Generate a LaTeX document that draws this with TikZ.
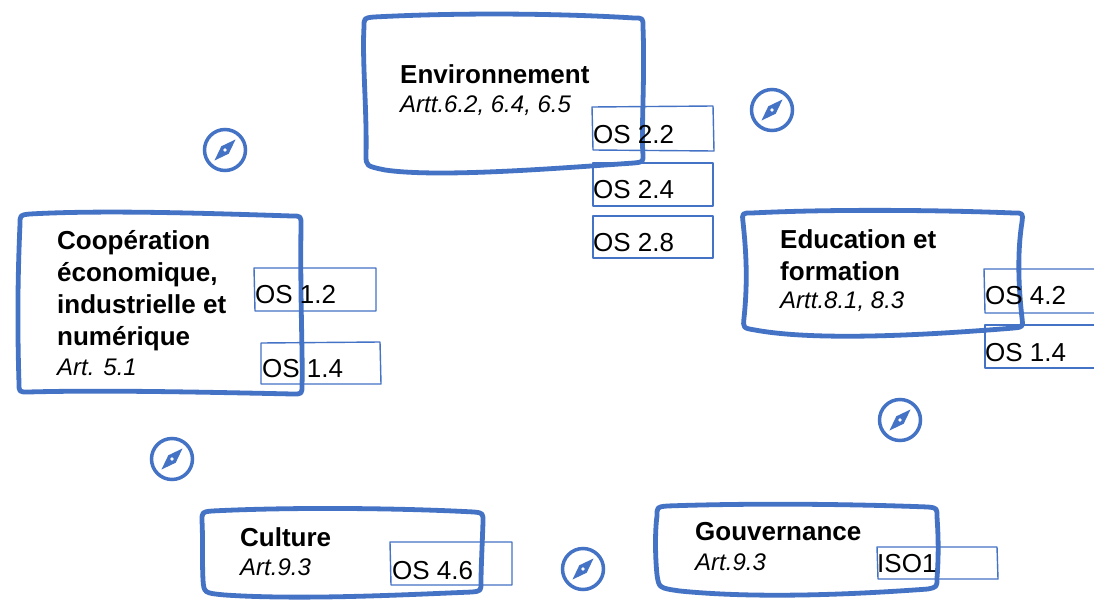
\documentclass[tikz,border=0pt]{standalone}
\usepackage{fontspec}
\setmainfont{Liberation Sans}
\definecolor{ob}{RGB}{68,114,196}
\tikzset{
  bigbox/.style={draw=ob, line width=4.8pt, line join=round},
  osbox/.style={draw=ob, line width=1.4pt, line join=round},
  ttl/.style={anchor=base west, inner sep=0pt, font=\fontsize{26}{32}\selectfont\bfseries},
  art/.style={anchor=base west, inner sep=0pt, font=\fontsize{24}{30}\selectfont\itshape},
  ost/.style={anchor=base west, inner sep=0pt, font=\fontsize{26}{32}\selectfont},
  compass/.pic={
    \draw[ob, line width=3.5pt] (0,0) circle (20.5);
    \fill[ob] (10.5,-10.5) -- (3.7,3.7) -- (-10.5,10.5) -- (-3.7,-3.7) -- cycle;
    \fill[white] (0,0) circle (1.9);
  }
}
\begin{document}
\begin{tikzpicture}[x=1pt,y=-1pt]
\clip (0,0) rectangle (1094,602);
\fill[white] (0,0) rectangle (1094,602);

% big hand-drawn boxes
% Environnement
\draw[bigbox] (374,17) .. controls (470,12) and (570,14) .. (634,18)
  .. controls (643,18) .. (643,27)
  .. controls (645,80) and (641,130) .. (643,155)
  .. controls (643,162) .. (634,163)
  .. controls (560,168) and (440,178) .. (385,170)
  .. controls (366,166) .. (366,155)
  .. controls (367,110) and (362,60) .. (364,27)
  .. controls (364,18) .. (374,17) -- cycle;
% Cooperation
\draw[bigbox] (30,214) .. controls (100,210) and (200,213) .. (292,216)
  .. controls (301,216) .. (301,225)
  .. controls (300,300) and (303,360) .. (302,385)
  .. controls (302,394) .. (293,394)
  .. controls (200,392) and (100,390) .. (28,392)
  .. controls (19,392) .. (19,383)
  .. controls (17,320) and (18,270) .. (20,224)
  .. controls (20,215) .. (30,214) -- cycle;
% Education
\draw[bigbox] (752,213) .. controls (830,209) and (940,210) .. (1014,213)
  .. controls (1023,213) .. (1022,222)
  .. controls (1016,260) and (1020,300) .. (1022,318)
  .. controls (1023,327) .. (1014,328)
  .. controls (940,334) and (820,342) .. (755,330)
  .. controls (743,328) .. (744,318)
  .. controls (748,280) and (746,250) .. (743,222)
  .. controls (742,213) .. (752,213) -- cycle;
% Culture
\draw[bigbox] (212,511) .. controls (290,507) and (400,508) .. (474,512)
  .. controls (483,513) .. (483,522)
  .. controls (482,550) and (481,570) .. (481,582)
  .. controls (481,591) .. (472,592)
  .. controls (400,595) and (300,600) .. (225,595)
  .. controls (204,593) .. (203,580)
  .. controls (202,560) and (203,540) .. (202,521)
  .. controls (202,512) .. (212,511) -- cycle;
% Gouvernance
\draw[bigbox] (667,506) .. controls (750,503) and (850,504) .. (928,507)
  .. controls (937,508) .. (937,517)
  .. controls (939,545) and (938,565) .. (937,578)
  .. controls (937,587) .. (928,589)
  .. controls (860,594) and (760,599) .. (680,591)
  .. controls (659,588) .. (657,575)
  .. controls (655,555) and (655,530) .. (657,516)
  .. controls (657,507) .. (667,506) -- cycle;

% small OS boxes
\draw[osbox] (592,107) -- (713,106) -- (714,151) -- (593,150) -- cycle;
\draw[osbox] (593,163) -- (713,163) -- (713,206) -- (593,206) -- cycle;
\draw[osbox] (593,216) -- (713,216) -- (713,258) -- (593,258) -- cycle;
\draw[osbox] (254,268) -- (376,268) -- (376,311) -- (255,311) -- cycle;
\draw[osbox] (261,343) -- (380,342) -- (381,384) -- (261,384) -- cycle;
\draw[osbox] (984,269) -- (1100,269) -- (1100,313) -- (985,313) -- cycle;
\draw[osbox] (985,325) -- (1100,325) -- (1100,368) -- (985,368) -- cycle;
\draw[osbox] (390,542) -- (512,542) -- (512,585) -- (391,585) -- cycle;
\draw[osbox] (877,547) -- (997,547) -- (998,579) -- (878,579) -- cycle;

% texts
\node[ttl] (env) at (400,83) {Environnement};
\node[art] (envart) at (400,112) {Artt.6.2, 6.4, 6.5};
\node[ost] (os22) at (593,143) {OS 2.2};
\node[ost] (os24) at (593,198) {OS 2.4};
\node[ost] (os28) at (593,251) {OS 2.8};

\node[ttl] (coop1) at (57,249) {Coopération};
\node[ttl] (coop2) at (57,281) {économique,};
\node[ttl] (coop3) at (57,313) {industrielle et};
\node[ttl] (coop4) at (57,345) {numérique};
\node[art] (coopart) at (57,375) {Art. 5.1};
\node[ost] (os12) at (255,303) {OS 1.2};
\node[ost] (os14a) at (262,377) {OS 1.4};

\node[ttl] (edu1) at (780,248) {Education et};
\node[ttl] (edu2) at (780,280) {formation};
\node[art] (eduart) at (780,308) {Artt.8.1, 8.3};
\node[ost] (os42) at (985,304) {OS 4.2};
\node[ost] (os14b) at (985,361) {OS 1.4};

\node[ttl] (cul) at (240,546) {Culture};
\node[art] (culart) at (240,575) {Art.9.3};
\node[ost] (os46) at (392,579) {OS 4.6};

\node[ttl] (gov) at (695,540) {Gouvernance};
\node[art] (govart) at (695,570) {Art.9.3};
\node[ost] (iso1) at (877,572) {ISO1};

% compasses
\pic at (225,150) {compass};
\pic at (772,110) {compass};
\pic at (172,459) {compass};
\pic at (900,420) {compass};
\pic at (583,569) {compass};
\end{tikzpicture}
\end{document}
